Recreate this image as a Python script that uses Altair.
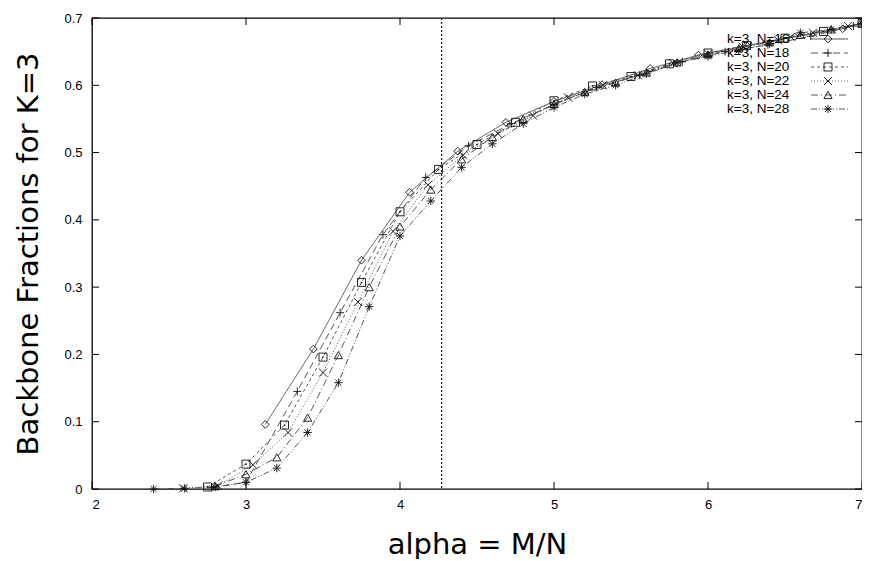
import altair as alt
import pandas as pd

series_names = ["k=3, N=16", "k=3, N=18", "k=3, N=20", "k=3, N=22", "k=3, N=24", "k=3, N=28"]

alpha_n16 = [3.125, 3.4375, 3.75, 4.0625, 4.375, 4.6875, 5.0, 5.3125, 5.625, 5.9375, 6.25, 6.5625, 6.875, 7.0]
frac_n16 = [0.096, 0.208, 0.340, 0.441, 0.502, 0.545, 0.576, 0.601, 0.625, 0.645, 0.659, 0.672, 0.684, 0.693]

alpha_n18 = [2.778, 3.0, 3.333, 3.611, 3.889, 4.167, 4.444, 4.722, 5.0, 5.278, 5.556, 5.833, 6.111, 6.389, 6.667, 6.944]
frac_n18 = [0.002, 0.010, 0.145, 0.262, 0.378, 0.463, 0.510, 0.543, 0.571, 0.597, 0.615, 0.635, 0.650, 0.660, 0.673, 0.688]

alpha_n20 = [2.75, 3.0, 3.25, 3.5, 3.75, 4.0, 4.25, 4.5, 4.75, 5.0, 5.25, 5.5, 5.75, 6.0, 6.25, 6.5, 6.75, 7.0]
frac_n20 = [0.003, 0.037, 0.095, 0.196, 0.307, 0.412, 0.475, 0.512, 0.545, 0.577, 0.599, 0.613, 0.632, 0.648, 0.659, 0.670, 0.680, 0.692]

alpha_n22 = [2.591, 2.818, 3.045, 3.273, 3.5, 3.727, 3.955, 4.182, 4.409, 4.636, 4.864, 5.091, 5.318, 5.545, 5.773, 6.0, 6.227, 6.455, 6.682, 6.909]
frac_n22 = [0.001, 0.005, 0.036, 0.084, 0.173, 0.278, 0.383, 0.452, 0.496, 0.528, 0.555, 0.582, 0.600, 0.615, 0.633, 0.647, 0.657, 0.667, 0.678, 0.688]

alpha_n24 = [2.8, 3.0, 3.2, 3.4, 3.6, 3.8, 4.0, 4.2, 4.4, 4.6, 4.8, 5.0, 5.2, 5.4, 5.6, 5.8, 6.0, 6.2, 6.4, 6.6, 6.8, 7.0]
frac_n24 = [0.004, 0.022, 0.047, 0.106, 0.199, 0.300, 0.390, 0.445, 0.490, 0.523, 0.550, 0.572, 0.590, 0.604, 0.619, 0.634, 0.646, 0.655, 0.664, 0.675, 0.683, 0.692]

alpha_n28 = [2.4, 2.6, 2.8, 3.0, 3.2, 3.4, 3.6, 3.8, 4.0, 4.2, 4.4, 4.6, 4.8, 5.0, 5.2, 5.4, 5.6, 5.8, 6.0, 6.2, 6.4, 6.6, 6.8, 7.0]
frac_n28 = [0.000, 0.001, 0.003, 0.010, 0.031, 0.084, 0.158, 0.271, 0.376, 0.428, 0.478, 0.513, 0.543, 0.567, 0.587, 0.600, 0.617, 0.633, 0.643, 0.652, 0.662, 0.678, 0.683, 0.692]

threshold_alpha = [4.27]
x_ticks = [2, 3, 4, 5, 6, 7]
y_ticks = [0, 0.1, 0.2, 0.3, 0.4, 0.5, 0.6, 0.7]

all_alpha = [alpha_n16, alpha_n18, alpha_n20, alpha_n22, alpha_n24, alpha_n28]
all_frac = [frac_n16, frac_n18, frac_n20, frac_n22, frac_n24, frac_n28]

rows = []
for name, xs, ys in zip(series_names, all_alpha, all_frac):
    for a, f in zip(xs, ys):
        rows.append({"series": name, "alpha": a, "frac": f})
df = pd.DataFrame(rows)

legend_df = pd.DataFrame({"series": series_names, "row": list(range(len(series_names)))})

W, H = 770, 471
LINE = "#444444"
INK = "#111111"

dash_range = [[1, 0], [7, 4], [3, 3], [1, 2], [7, 3, 1, 3], [6, 2, 1, 2, 1, 2]]
shape_range = [
    "diamond",
    "M-1,0L1,0M0,-1L0,1",
    "square",
    "M-1,-1L1,1M-1,1L1,-1",
    "triangle-up",
    "M-1,0L1,0M0,-1L0,1M-0.72,-0.72L0.72,0.72M-0.72,0.72L0.72,-0.72",
]
size_range = [60, 70, 75, 55, 65, 75]

xscale = alt.Scale(domain=[2, 7], nice=False, zero=False)
yscale = alt.Scale(domain=[0, 0.7], nice=False, zero=True)
dash_enc = alt.StrokeDash("series:N", scale=alt.Scale(domain=series_names, range=dash_range), legend=None)
shape_enc = alt.Shape("series:N", scale=alt.Scale(domain=series_names, range=shape_range), legend=None)
size_enc = alt.Size("series:N", scale=alt.Scale(domain=series_names, range=size_range), legend=None)

x_axis = alt.Axis(values=x_ticks, format="d", title="alpha = M/N", grid=False, domain=False,
                  tickSize=0, labelPadding=9, labelFont="Liberation Sans", labelFontSize=13,
                  labelColor="black", titleFont="DejaVu Sans", titleFontSize=29,
                  titleFontWeight="normal", titleColor="black", titlePadding=19)
y_axis = alt.Axis(values=y_ticks, format="~g", title="Backbone Fractions for K=3", grid=False,
                  domain=False, tickSize=0, labelPadding=10, labelFont="Liberation Sans",
                  labelFontSize=13, labelColor="black", titleFont="DejaVu Sans", titleFontSize=29,
                  titleFontWeight="normal", titleColor="black", titlePadding=20)


def X(field):
    return alt.X(field, scale=xscale, axis=x_axis)


def Y(field):
    return alt.Y(field, scale=yscale, axis=y_axis)


base = alt.Chart(df)

lines = base.mark_line(color=LINE, strokeWidth=0.9).encode(
    x=X("alpha:Q"), y=Y("frac:Q"), strokeDash=dash_enc, detail="series:N", order="alpha:Q",
)

points = base.mark_point(filled=False, color=INK, strokeWidth=0.9, opacity=1).encode(
    x=X("alpha:Q"), y=Y("frac:Q"), shape=shape_enc, size=size_enc,
)

sq_dots = base.transform_filter(alt.datum.series == "k=3, N=20").mark_circle(
    color=INK, size=3, opacity=1).encode(x=X("alpha:Q"), y=Y("frac:Q"))

thr = alt.Chart(pd.DataFrame({"alpha": threshold_alpha})).mark_rule(
    color="#222222", strokeWidth=1.3, strokeDash=[2, 2]
).encode(x=X("alpha:Q"), y=alt.value(0), y2=alt.value(H))

xt = alt.Chart(pd.DataFrame({"alpha": x_ticks}))
yt = alt.Chart(pd.DataFrame({"frac": y_ticks}))
TK = 7
ticks_bottom = xt.mark_rule(color="black", strokeWidth=1).encode(
    x=X("alpha:Q"), y=alt.value(H), y2=alt.value(H - TK))
ticks_top = xt.mark_rule(color="black", strokeWidth=1).encode(
    x=X("alpha:Q"), y=alt.value(0), y2=alt.value(TK))
ticks_left = yt.mark_rule(color="black", strokeWidth=1).encode(
    y=Y("frac:Q"), x=alt.value(0), x2=alt.value(TK))
ticks_right = yt.mark_rule(color="black", strokeWidth=1).encode(
    y=Y("frac:Q"), x=alt.value(W - TK), x2=alt.value(W))

leg = alt.Chart(legend_df).transform_calculate(ly="21 + 14 * datum.row")
leg_text = leg.mark_text(align="left", baseline="middle", font="Liberation Sans", fontSize=13.5,
                         color="black").encode(
    x=alt.value(635), y=alt.Y("ly:Q", scale=None, axis=None), text="series:N")
leg_line = leg.mark_rule(color=LINE, strokeWidth=0.9).encode(
    x=alt.value(719), x2=alt.value(756), y=alt.Y("ly:Q", scale=None, axis=None), strokeDash=dash_enc)
leg_pt = leg.mark_point(filled=False, color=INK, strokeWidth=0.9, opacity=1).encode(
    x=alt.value(736), y=alt.Y("ly:Q", scale=None, axis=None), shape=shape_enc, size=size_enc)

chart = alt.layer(
    lines, thr, points, sq_dots, ticks_bottom, ticks_top, ticks_left, ticks_right,
    leg_line, leg_pt, leg_text,
).properties(
    width=W, height=H,
    autosize=alt.AutoSizeParams(type="none"),
    padding={"left": 84, "top": 10, "right": 0, "bottom": 70},
    background="white",
).configure_view(stroke="black", strokeWidth=1.3)

chart.save("out.html", embed_options={"renderer": "svg", "actions": False})
